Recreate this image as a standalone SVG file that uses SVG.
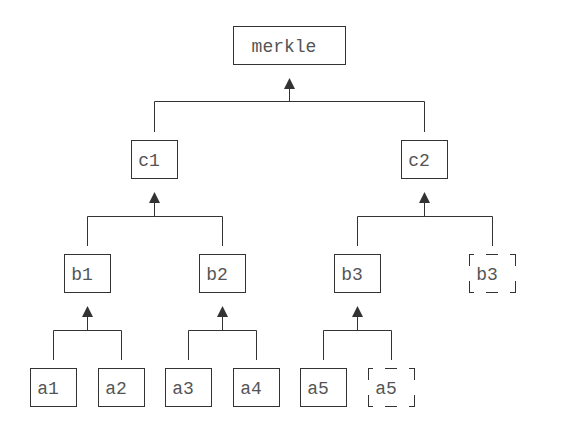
<svg xmlns="http://www.w3.org/2000/svg" width="582" height="424" viewBox="0 0 582 424">
<style>
.box{fill:#fff;stroke:#333;stroke-width:1}
.dh{fill:none;stroke:#333;stroke-width:1;stroke-dasharray:5 12 12 12 6}
.dv{fill:none;stroke:#333;stroke-width:1;stroke-dasharray:12 15 12}
.t{font-family:"Courier New","Liberation Mono",monospace;font-size:18px;fill:#555;text-anchor:middle}
.ln{fill:none;stroke:#333;stroke-width:1}
.ar{fill:#333}
</style>
<rect width="582" height="424" fill="#fff"/>
<g id="connectors">
<path class="ln" d="M154.5 132V101.5H424.5V132M289.5 101.5V89"/>
<path class="ar" d="M289.5 78L295 89H284Z"/>
<path class="ln" d="M87.5 246V216.5H222.5V246M154.5 216.5V203"/>
<path class="ar" d="M154.5 192L160 203H149Z"/>
<path class="ln" d="M357.5 246V216.5H492.5V246M424.5 216.5V203"/>
<path class="ar" d="M424.5 192L430 203H419Z"/>
<path class="ln" d="M53.5 360V330.5H121.5V360M87.5 330.5V317"/>
<path class="ar" d="M87.5 306L93 317H82Z"/>
<path class="ln" d="M188.5 360V330.5H256.5V360M222.5 330.5V317"/>
<path class="ar" d="M222.5 306L228 317H217Z"/>
<path class="ln" d="M323.5 360V330.5H391.5V360M357.5 330.5V317"/>
<path class="ar" d="M357.5 306L363 317H352Z"/>
</g>
<g id="merkle"><rect class="box" x="233.5" y="26.5" width="112" height="38"/><text class="t" x="284" y="52">merkle</text></g>
<g id="c1"><rect class="box" x="131.5" y="140.5" width="46" height="38"/><text class="t" x="149" y="165.5">c1</text></g>
<g id="c2"><rect class="box" x="401.5" y="140.5" width="46" height="38"/><text class="t" x="419" y="165.5">c2</text></g>
<g id="b1"><rect class="box" x="64.5" y="254.5" width="46" height="38"/><text class="t" x="82" y="279.5">b1</text></g>
<g id="b2"><rect class="box" x="199.5" y="254.5" width="46" height="38"/><text class="t" x="217" y="279.5">b2</text></g>
<g id="b3"><rect class="box" x="334.5" y="254.5" width="46" height="38"/><text class="t" x="352" y="279.5">b3</text></g>
<g id="b3-dup"><path class="dh" d="M469 254.5h47M469 292.5h47"/><path class="dv" d="M469.5 254v39M515.5 254v39"/><text class="t" x="487" y="279.5">b3</text></g>
<g id="a1"><rect class="box" x="30.5" y="368.5" width="46" height="38"/><text class="t" x="48" y="393.5">a1</text></g>
<g id="a2"><rect class="box" x="98.5" y="368.5" width="46" height="38"/><text class="t" x="116" y="393.5">a2</text></g>
<g id="a3"><rect class="box" x="165.5" y="368.5" width="46" height="38"/><text class="t" x="183" y="393.5">a3</text></g>
<g id="a4"><rect class="box" x="233.5" y="368.5" width="46" height="38"/><text class="t" x="251" y="393.5">a4</text></g>
<g id="a5"><rect class="box" x="300.5" y="368.5" width="46" height="38"/><text class="t" x="318" y="393.5">a5</text></g>
<g id="a5-dup"><path class="dh" d="M368 368.5h47M368 406.5h47"/><path class="dv" d="M368.5 368v39M414.5 368v39"/><text class="t" x="386" y="393.5">a5</text></g>
</svg>
